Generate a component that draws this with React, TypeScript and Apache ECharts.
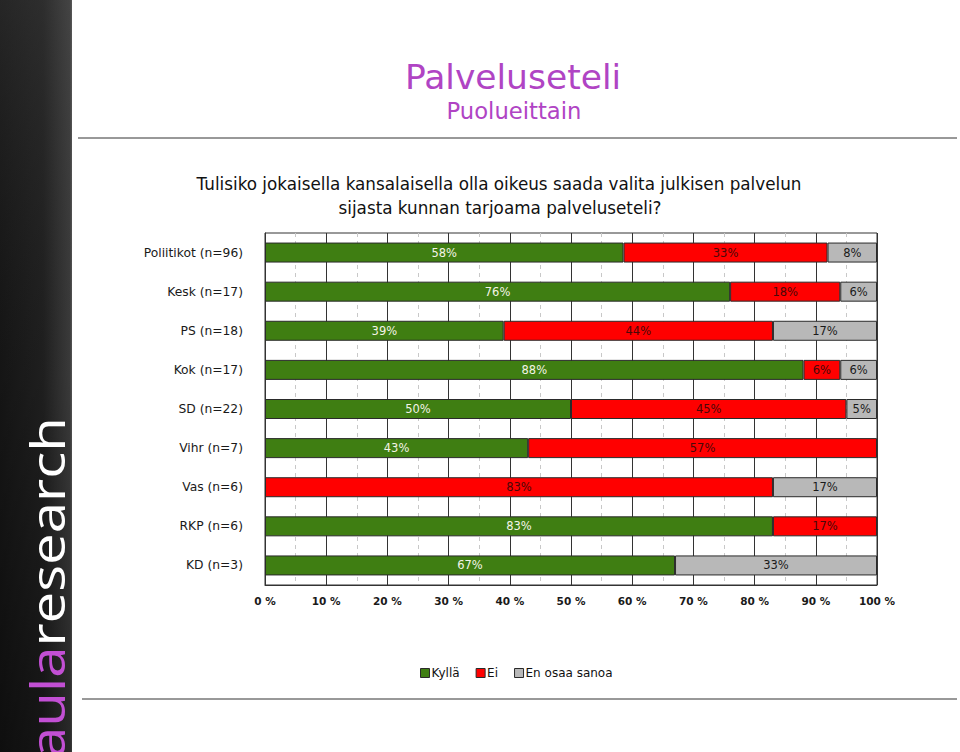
import React, { useEffect, useRef } from "react";
import * as echarts from "echarts";

const categories = [
  "Poliitikot (n=96)",
  "Kesk (n=17)",
  "PS (n=18)",
  "Kok (n=17)",
  "SD (n=22)",
  "Vihr (n=7)",
  "Vas (n=6)",
  "RKP (n=6)",
  "KD (n=3)",
];
const seriesNames = ["Kyllä", "Ei", "En osaa sanoa"];
const kylla = [58, 76, 39, 88, 50, 43, 0, 83, 67];
const ei = [33, 18, 44, 6, 45, 57, 83, 17, 0];
const eiOsaa = [8, 6, 17, 6, 5, 0, 17, 0, 33];
const xTickLabels = ["0 %", "10 %", "20 %", "30 %", "40 %", "50 %", "60 %", "70 %", "80 %", "90 %", "100 %"];

const titleText = "Palveluseteli";
const subtitleText = "Puolueittain";
const questionLines = [
  "Tulisiko jokaisella kansalaisella olla oikeus saada valita julkisen palvelun",
  "sijasta kunnan tarjoama palveluseteli?",
];

const FONT = "DejaVu Sans";

export default function App() {
  const ref = useRef<HTMLDivElement>(null);
  useEffect(() => {
    if (!ref.current) return;
    const chart = echarts.init(ref.current, null, { renderer: "svg" });
    const rows = [kylla, ei, eiOsaa];
    const sums = categories.map((_, i) => kylla[i] + ei[i] + eiOsaa[i]);
    const colors = ["#3f7e12", "#ff0000", "#b8b8b8"];
    const labelColors = ["#f4f4e6", "#4a0808", "#1a1a1a"];
    const series = rows.map((arr, s) => ({
      name: seriesNames[s],
      type: "bar",
      stack: "total",
      barWidth: 20,
      itemStyle: { color: colors[s], borderColor: "#2a2a2a", borderWidth: 1 },
      label: {
        show: true,
        position: "inside",
        color: labelColors[s],
        fontFamily: FONT,
        fontSize: 11.5,
        formatter: (p: any) => (p.data && p.data.raw ? p.data.raw + "%" : ""),
      },
      data: arr.map((v, i) => (v ? { value: (v / sums[i]) * 100, raw: v } : null)),
    }));

    const option: any = {
      animation: false,
      backgroundColor: "#ffffff",
      graphic: [
        {
          type: "rect",
          shape: { x: 0, y: 0, width: 72, height: 752 },
          style: {
            fill: new echarts.graphic.LinearGradient(0, 0, 1, 0, [
              { offset: 0, color: "#1a1a1a" },
              { offset: 0.6, color: "#262626" },
              { offset: 0.97, color: "#484848" },
              { offset: 1, color: "#6a6a6a" },
            ]),
          },
          silent: true,
        },
        {
          type: "rect",
          shape: { x: 0, y: 0, width: 72, height: 752 },
          style: {
            fill: new echarts.graphic.LinearGradient(0, 0, 0, 1, [
              { offset: 0, color: "rgba(60,60,60,0.35)" },
              { offset: 0.5, color: "rgba(0,0,0,0.2)" },
              { offset: 1, color: "rgba(0,0,0,0.45)" },
            ]),
          },
          silent: true,
        },
        {
          type: "text",
          x: 70,
          y: 758,
          rotation: Math.PI / 2,
          scaleX: 1.2,
          style: {
            text: "{a|aula}{b|research}",
            textAlign: "left",
            textVerticalAlign: "bottom",
            rich: {
              a: { fill: "#c24fd4", fontSize: 47, fontFamily: "Open Sans" },
              b: { fill: "#ffffff", fontSize: 47, fontFamily: "Open Sans" },
            },
          },
          silent: true,
        },
        {
          type: "line",
          shape: { x1: 78, y1: 138, x2: 957, y2: 138 },
          style: { stroke: "#333", lineWidth: 1 },
          silent: true,
        },
        {
          type: "line",
          shape: { x1: 82, y1: 699, x2: 957, y2: 699 },
          style: { stroke: "#333", lineWidth: 1 },
          silent: true,
        },
        {
          type: "text",
          x: 513,
          y: 77,
          style: {
            text: titleText,
            fill: "#b044c4",
            fontSize: 34.5,
            fontFamily: FONT,
            textAlign: "center",
            textVerticalAlign: "middle",
          },
        },
        {
          type: "text",
          x: 514,
          y: 111,
          style: {
            text: subtitleText,
            fill: "#b044c4",
            fontSize: 22.7,
            fontFamily: FONT,
            textAlign: "center",
            textVerticalAlign: "middle",
          },
        },
        {
          type: "text",
          x: 499,
          y: 184,
          style: {
            text: questionLines[0],
            fill: "#111111",
            fontSize: 16.8,
            fontFamily: FONT,
            textAlign: "center",
            textVerticalAlign: "middle",
          },
        },
        {
          type: "text",
          x: 500,
          y: 208,
          style: {
            text: questionLines[1],
            fill: "#111111",
            fontSize: 16.8,
            fontFamily: FONT,
            textAlign: "center",
            textVerticalAlign: "middle",
          },
        },
      ],
      legend: {
        data: seriesNames,
        left: 415,
        top: 662,
        itemWidth: 9,
        itemHeight: 9,
        itemGap: 16,
        icon: "rect",
        itemStyle: { borderColor: "#2a2a2a", borderWidth: 1 },
        textStyle: { fontFamily: FONT, fontSize: 12, color: "#111", padding: [0, 0, 0, -3] },
      },
      grid: {
        left: 265,
        right: 83,
        top: 233,
        bottom: 167,
        show: true,
        borderColor: "#333",
        borderWidth: 1,
        containLabel: false,
        outerBoundsMode: "none",
      },
      xAxis: {
        type: "value",
        min: 0,
        max: 100,
        interval: 10,
        axisLine: { show: true, lineStyle: { color: "#333" } },
        axisTick: { show: false },
        splitLine: { show: true, lineStyle: { color: "#333", width: 1 } },
        minorTick: { show: false, splitNumber: 2 },
        minorSplitLine: { show: true, lineStyle: { color: "#c8c8c8", type: [4, 4], width: 1 } },
        axisLabel: {
          margin: 10,
          color: "#1a1a1a",
          fontFamily: FONT,
          fontSize: 10.5,
          fontWeight: "bold",
          formatter: (v: number) => xTickLabels[Math.round(v / 10)] ?? "",
        },
      },
      yAxis: {
        type: "category",
        inverse: true,
        data: categories,
        axisLine: { show: true, lineStyle: { color: "#333" } },
        axisTick: { show: false },
        axisLabel: { margin: 22, color: "#1a1a1a", fontFamily: FONT, fontSize: 12.3 },
      },
      series,
    };
    chart.setOption(option);
    return () => chart.dispose();
  }, []);
  return (
    <div
      ref={ref}
      style={{ position: "fixed", left: 0, top: 0, width: 960, height: 752, background: "#fff" }}
    />
  );
}
